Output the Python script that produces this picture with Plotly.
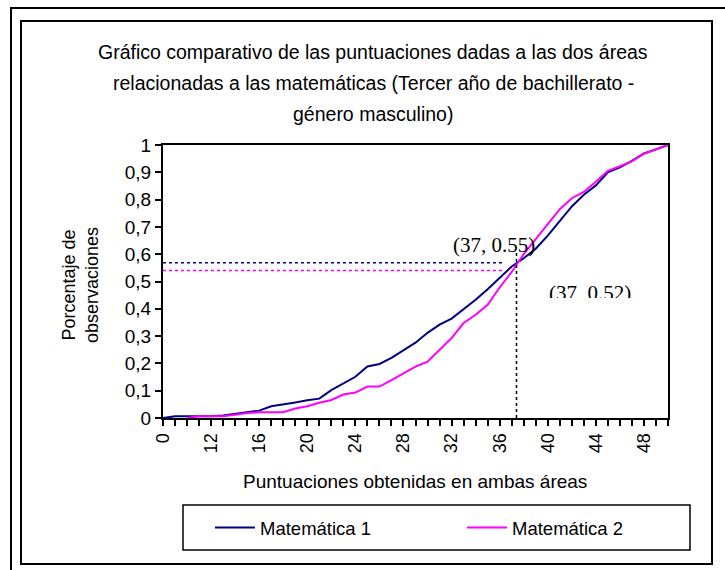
import plotly.graph_objects as go

# categorias del eje x (puntuaciones)
puntuaciones = ["0", "9", "10", "11", "12", "13", "14", "15", "16", "17", "18", "19",
                "20", "21", "22", "23", "24", "25", "26", "27", "28", "29", "30", "31",
                "32", "33", "34", "35", "36", "37", "38", "39", "40", "41", "42", "43",
                "44", "45", "46", "47", "48", "49", "50"]

matematica_1 = [0, 0.006, 0.006, 0.006, 0.006, 0.009, 0.015, 0.02, 0.027, 0.043, 0.049, 0.057,
                0.065, 0.071, 0.102, 0.127, 0.151, 0.189, 0.198, 0.22, 0.249, 0.276, 0.312, 0.342,
                0.364, 0.397, 0.433, 0.472, 0.513, 0.555, 0.585, 0.62, 0.668, 0.72, 0.775, 0.818,
                0.852, 0.9, 0.918, 0.942, 0.969, 0.984, 1.0]

matematica_2 = [None, None, 0, 0.006, 0.006, 0.006, 0.012, 0.018, 0.021, 0.021, 0.021, 0.035,
                0.043, 0.056, 0.066, 0.086, 0.093, 0.115, 0.115, 0.139, 0.163, 0.188, 0.206, 0.25,
                0.293, 0.348, 0.378, 0.415, 0.478, 0.535, 0.60, 0.655, 0.71, 0.765, 0.805, 0.828,
                0.865, 0.905, 0.922, 0.94, 0.968, 0.985, 1.0]

etiquetas_x = ["0", "12", "16", "20", "24", "28", "32", "36", "40", "44", "48"]

W, H = 725, 570
L, R, T, B = 163, 57, 145, 152
pw = W - L - R
ph = H - T - B

def px(x):
    return (x - L) / pw

def py(y):
    return (H - B - y) / ph

fuente = "Liberation Sans, Arial, sans-serif"
serif = "Liberation Serif, Times New Roman, serif"

fig = go.Figure()

fig.add_trace(go.Scatter(
    x=puntuaciones, y=matematica_1,
    mode='lines',
    line=dict(color='#000080', width=2),
    name='Matemática 1',
    legend='legend'))

fig.add_trace(go.Scatter(
    x=puntuaciones, y=matematica_2,
    mode='lines',
    line=dict(color='#FF00FF', width=2),
    name='Matemática 2',
    legend='legend2'))

# lineas punteadas de referencia
fig.add_shape(type='line', xref='x', yref='y', x0=0, x1=28.4, y0=0.569, y1=0.569,
              line=dict(color='#000080', width=1.5, dash='dot'))
fig.add_shape(type='line', xref='x', yref='y', x0=0, x1=28.4, y0=0.54, y1=0.54,
              line=dict(color='#FF00FF', width=1.5, dash='dot'))
fig.add_shape(type='line', xref='x', yref='y', x0=29.4, x1=29.4, y0=0, y1=0.61,
              line=dict(color='black', width=1.5, dash='dot'))

# marcos
fig.add_shape(type='rect', xref='paper', yref='paper',
              x0=px(11), x1=px(728), y0=py(575), y1=py(8),
              line=dict(color='black', width=2))
fig.add_shape(type='rect', xref='paper', yref='paper',
              x0=px(21), x1=px(712), y0=py(564), y1=py(21),
              line=dict(color='black', width=2))
fig.add_shape(type='rect', xref='paper', yref='paper',
              x0=px(183), x1=px(690), y0=py(550), y1=py(505),
              line=dict(color='black', width=1.5))

titulo = ["Gráfico comparativo de las puntuaciones dadas a las dos áreas",
          "relacionadas a las matemáticas (Tercer año de bachillerato -",
          "género masculino)"]
for linea, yy in zip(titulo, [52, 83, 114]):
    fig.add_annotation(text=linea, xref='paper', yref='paper', x=px(373), y=py(yy),
                       xanchor='center', yanchor='middle', showarrow=False,
                       font=dict(family=fuente, size=19.5, color='black'))

fig.add_annotation(text="Porcentaje de<br>observaciones", xref='paper', yref='paper',
                   x=px(80), y=py(285), xanchor='center', yanchor='middle',
                   textangle=-90, showarrow=False,
                   font=dict(family=fuente, size=18, color='black'))

fig.add_annotation(text="Puntuaciones obtenidas en ambas áreas", xref='paper', yref='paper',
                   x=px(415), y=py(481), xanchor='center', yanchor='middle', showarrow=False,
                   font=dict(family=fuente, size=19, color='black'))

fig.add_annotation(text="(37, 0.55)", xref='paper', yref='paper', x=px(494), y=py(245),
                   xanchor='center', yanchor='middle', showarrow=False,
                   font=dict(family=serif, size=21, color='black'))
fig.add_annotation(text="(37, 0.52)", xref='paper', yref='paper', x=px(590), y=py(279),
                   xanchor='center', yanchor='top', valign='top', height=17, showarrow=False,
                   font=dict(family=serif, size=21, color='black'))

ticktext = [p if p in etiquetas_x else "" for p in puntuaciones]

leyenda = dict(orientation='h', yanchor='middle', xanchor='left', y=py(528),
               bgcolor='rgba(0,0,0,0)', borderwidth=0, itemwidth=40,
               font=dict(family=fuente, size=18.5, color='black'))

fig.update_layout(
    width=W, height=H,
    margin=dict(l=L, r=R, t=T, b=B),
    paper_bgcolor='white',
    plot_bgcolor='white',
    separators=', ',
    font=dict(family=fuente, size=18, color='black'),
    showlegend=True,
    legend=dict(leyenda, x=px(210)),
    legend2=dict(leyenda, x=px(462)))

fig.update_xaxes(
    type='category', categoryorder='array', categoryarray=puntuaciones,
    range=[0, 42], tickmode='array', tickvals=puntuaciones, ticktext=ticktext,
    tickangle=-90, ticks='outside', ticklen=6, tickwidth=2, tickcolor='black',
    showline=True, linecolor='black', linewidth=2, mirror=True,
    showgrid=False, zeroline=False,
    tickfont=dict(family=fuente, size=18, color='black'))

fig.update_yaxes(
    range=[0, 1], tick0=0, dtick=0.1,
    ticks='outside', ticklen=6, tickwidth=2, tickcolor='black',
    showline=True, linecolor='black', linewidth=2, mirror=True,
    showgrid=False, zeroline=False,
    tickfont=dict(family=fuente, size=19, color='black'))

fig.write_html("out.html", config={'displayModeBar': False},
               post_script="document.body.style.margin='0px';")
